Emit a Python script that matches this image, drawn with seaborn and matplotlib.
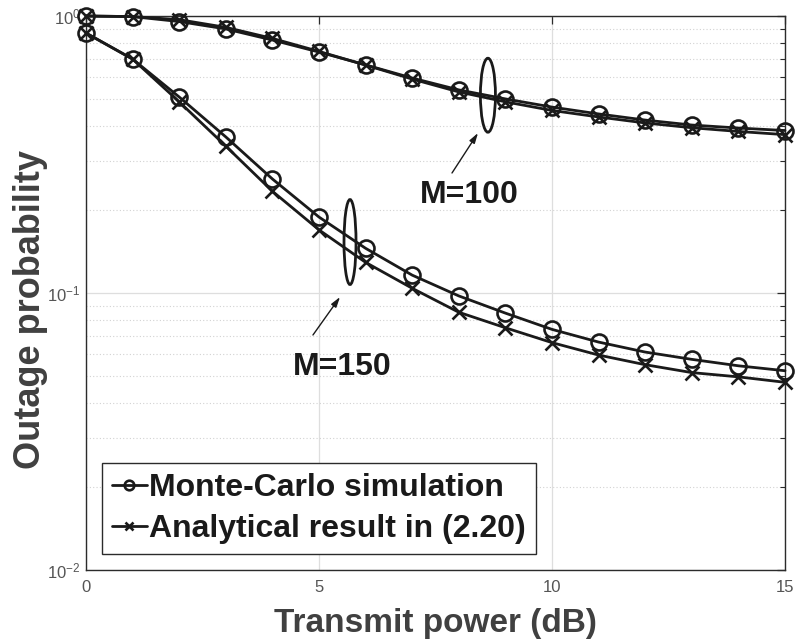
import matplotlib
matplotlib.use("Agg")
import numpy as np
import pandas as pd
import seaborn as sns
import matplotlib.pyplot as plt
from matplotlib.patches import Ellipse
from matplotlib.ticker import LogLocator, NullFormatter, FixedLocator

# ---- data ----
power_db = [0, 1, 2, 3, 4, 5, 6, 7, 8, 9, 10, 11, 12, 13, 14, 15]
mc_m100 = [1.0, 0.995, 0.955, 0.898, 0.819, 0.741, 0.666, 0.597, 0.541, 0.502,
           0.469, 0.443, 0.421, 0.404, 0.394, 0.386]
an_m100 = [1.0, 0.995, 0.97, 0.91, 0.83, 0.745, 0.665, 0.592, 0.532, 0.49,
           0.456, 0.432, 0.411, 0.395, 0.383, 0.373]
mc_m150 = [0.868, 0.699, 0.51, 0.366, 0.258, 0.188, 0.145, 0.116, 0.0976, 0.0846,
           0.0739, 0.0665, 0.0612, 0.0576, 0.0546, 0.0524]
an_m150 = [0.868, 0.699, 0.49, 0.339, 0.233, 0.169, 0.129, 0.104, 0.0852, 0.0749,
           0.0662, 0.0597, 0.0551, 0.0516, 0.0498, 0.0476]
legend_labels = ["Monte-Carlo simulation", "Analytical result in (2.20)"]
x_ticks = [0, 5, 10, 15]

sns.set_style("white")
plt.rcParams["font.family"] = ["Liberation Sans", "DejaVu Sans"]
plt.rcParams["mathtext.fontset"] = "custom"
plt.rcParams["mathtext.rm"] = "Liberation Sans"
plt.rcParams["mathtext.it"] = "Liberation Sans:italic"
plt.rcParams["mathtext.bf"] = "Liberation Sans:bold"

fig = plt.figure(figsize=(7.99, 6.43), dpi=100)
ax = fig.add_axes([86/799, 73/643, 699/799, 554/643])

line_col = "#1a1a1a"
series = [
    (mc_m100, "o", legend_labels[0]),
    (an_m100, "x", legend_labels[1]),
    (mc_m150, "o", "_nolegend_"),
    (an_m150, "x", "_nolegend_"),
]
for vals, mk, lab in series:
    df = pd.DataFrame({"power": power_db, "p": vals})
    sns.lineplot(data=df, x="power", y="p", ax=ax, color=line_col, lw=2.0,
                 marker=mk, markersize=11.5 if mk == "o" else 9.5,
                 markerfacecolor="none", markeredgecolor=line_col,
                 markeredgewidth=1.9, label=lab, legend=False, clip_on=False,
                 zorder=4)

ax.set_yscale("log")
ax.set_xlim(0, 15)
ax.set_ylim(1e-2, 1)
ax.xaxis.set_major_locator(FixedLocator(x_ticks))
ax.set_xticklabels([str(t) for t in x_ticks])
ax.yaxis.set_major_locator(LogLocator(base=10, numticks=10))
ax.yaxis.set_minor_locator(LogLocator(base=10, subs=np.arange(2, 10), numticks=20))
ax.yaxis.set_minor_formatter(NullFormatter())

ax.grid(True, which="major", color="#dedede", lw=0.9, ls="-")
ax.grid(True, which="minor", axis="y", color="#d2d2d2", lw=0.8, ls=(0, (1, 2)))
ax.set_axisbelow(True)

for s in ax.spines.values():
    s.set_color("#2b2b2b")
    s.set_linewidth(1.0)
ax.tick_params(which="both", direction="in", top=True, right=True,
               colors="#2b2b2b", labelcolor="#555555", labelsize=12)
ax.tick_params(which="major", length=6, width=0.9)
ax.tick_params(which="minor", length=3.5, width=0.8)
ax.tick_params(axis="x", pad=7)
ax.tick_params(axis="y", pad=4)

ax.set_xlabel("Transmit power (dB)", fontsize=24, fontweight="bold", color="#404040")
ax.set_ylabel("Outage probability", fontsize=26, fontweight="bold", color="#404040")
ax.xaxis.set_label_coords(0.5, -0.068)
ax.yaxis.set_label_coords(-0.054, 0.47)

# annotations (axes fraction coordinates)
for (cx, cy, w, h) in [(0.575, 0.857, 0.0215, 0.1336), (0.3777, 0.592, 0.0172, 0.1534)]:
    ax.add_patch(Ellipse((cx, cy), w, h, transform=ax.transAxes, fill=False,
                         ec=line_col, lw=2.0, zorder=5))
ax.annotate("", xy=(0.5608, 0.7888), xytext=(0.5236, 0.7166),
            xycoords="axes fraction", textcoords="axes fraction",
            arrowprops=dict(arrowstyle="-|>,head_length=0.6,head_width=0.18",
                            color=line_col, lw=1.0, shrinkA=0, shrinkB=0))
ax.annotate("", xy=(0.3634, 0.4928), xytext=(0.3247, 0.4242),
            xycoords="axes fraction", textcoords="axes fraction",
            arrowprops=dict(arrowstyle="-|>,head_length=0.6,head_width=0.18",
                            color=line_col, lw=1.0, shrinkA=0, shrinkB=0))
ax.text(0.549, 0.677, "M=100", transform=ax.transAxes, ha="center", va="center",
        fontsize=23, fontweight="bold", color=line_col)
ax.text(0.3662, 0.3664, "M=150", transform=ax.transAxes, ha="center", va="center",
        fontsize=23, fontweight="bold", color=line_col)

leg = ax.legend(loc="lower left", bbox_to_anchor=(0.023, 0.0289), borderaxespad=0,
                prop={"weight": "bold", "size": 23},
                frameon=True, fancybox=False, framealpha=1, edgecolor="#2b2b2b",
                handlelength=1.1, handletextpad=0.08, borderpad=0.3,
                labelspacing=0.36, markerscale=0.6)
leg.get_frame().set_linewidth(1.0)
leg.set_zorder(6)
for t in leg.get_texts():
    t.set_color(line_col)

fig.savefig("out.png", dpi=100)
